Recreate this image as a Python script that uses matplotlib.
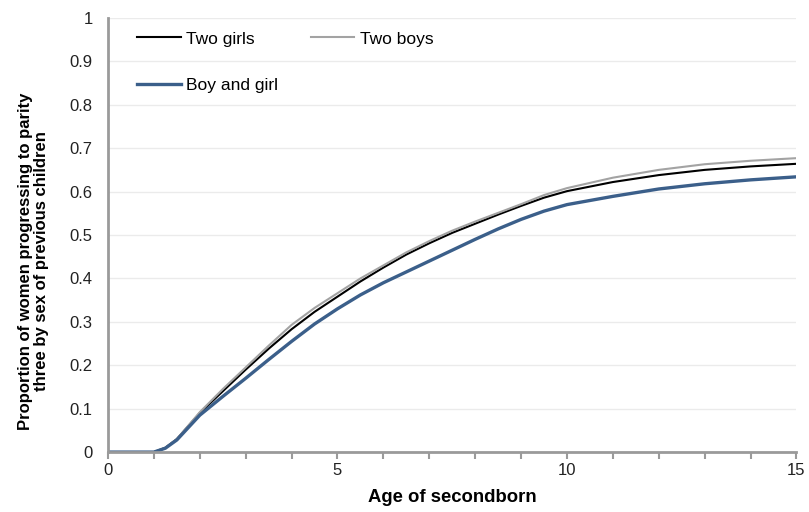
import matplotlib.pyplot as plt
import numpy as np

plt.rcParams["font.family"] = ["Liberation Sans", "DejaVu Sans"]

# Age of secondborn (years)
age = [0, 0.5, 1.0, 1.25, 1.5, 2.0, 2.5, 3.0, 3.5, 4.0, 4.5, 5.0, 5.5, 6.0, 6.5,
       7.0, 7.5, 8.0, 8.5, 9.0, 9.5, 10.0, 11.0, 12.0, 13.0, 14.0, 15.0]

# Proportion progressing to parity three
two_girls = [0, 0, 0, 0.01, 0.03, 0.09, 0.14, 0.19, 0.238, 0.283, 0.323, 0.358, 0.393,
             0.425, 0.455, 0.481, 0.505, 0.526, 0.547, 0.567, 0.586, 0.601, 0.622, 0.638,
             0.650, 0.658, 0.664]
two_boys = [0, 0, 0, 0.01, 0.03, 0.092, 0.145, 0.195, 0.245, 0.293, 0.332, 0.366, 0.40,
            0.43, 0.46, 0.486, 0.51, 0.531, 0.551, 0.571, 0.592, 0.608, 0.632, 0.650,
            0.663, 0.671, 0.677]
boy_and_girl = [0, 0, 0, 0.009, 0.028, 0.085, 0.128, 0.17, 0.213, 0.255, 0.295, 0.33,
                0.362, 0.39, 0.415, 0.44, 0.465, 0.49, 0.514, 0.536, 0.555, 0.57, 0.589,
                0.606, 0.618, 0.627, 0.634]

fig = plt.figure(figsize=(8.09, 5.12), dpi=100)
ax = fig.add_axes([0.1335, 0.117, 0.851, 0.848])

l1, = ax.plot(age, two_girls, color="black", lw=1.5, label="Two girls")
l2, = ax.plot(age, two_boys, color="#a3a3a3", lw=1.5, label="Two boys")
l3, = ax.plot(age, boy_and_girl, color="#3b5f8a", lw=2.4, label="Boy and girl")

ax.set_xlim(0, 15)
ax.set_ylim(0, 1)
ax.set_xticks([0, 5, 10, 15])
ax.set_xticks(np.arange(0, 16, 1), minor=True)
ax.set_yticks(np.arange(0, 1.01, 0.1))
ax.set_yticklabels(["0"] + [f"{v:.1f}" for v in np.arange(0.1, 0.95, 0.1)] + ["1"])

ax.grid(axis="y", color="#ebebeb", lw=1)
ax.set_axisbelow(True)
for s in ["top", "right"]:
    ax.spines[s].set_visible(False)
for s in ["left", "bottom"]:
    ax.spines[s].set_color("#9a9a9a")
    ax.spines[s].set_linewidth(2)

ax.tick_params(axis="x", which="both", length=5, width=1.5, color="#9a9a9a",
               labelsize=12, pad=3, labelcolor="#222222")
ax.tick_params(axis="y", length=0, labelsize=12, pad=11, labelcolor="#222222")

ax.set_xlabel("Age of secondborn", fontsize=13.3, fontweight="bold", labelpad=8)
ax.set_ylabel("Proportion of women progressing to parity\nthree by sex of previous children",
              fontsize=12, fontweight="bold", linespacing=1.05)
ax.yaxis.set_label_coords(-0.086, 0.44)

ax.legend(handles=[l1, l3, l2], ncol=2, loc="upper left", frameon=False,
          fontsize=12.5, labelspacing=1.8, columnspacing=1.9, handlelength=2.5,
          handletextpad=0.3, bbox_to_anchor=(0.02, 1.005))

fig.savefig("out.png", dpi=100)
